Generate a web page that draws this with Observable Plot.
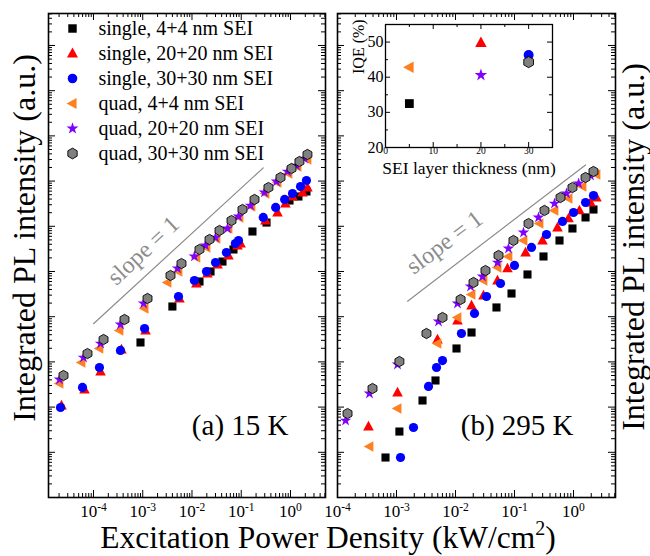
<!DOCTYPE html>
<html><head><meta charset="utf-8">
<script src="https://cdn.jsdelivr.net/npm/d3@7"></script>
<script src="https://cdn.jsdelivr.net/npm/@observablehq/plot@0.6"></script>
<style>
body{margin:0;background:#fff;}
#wrap{position:relative;width:650px;height:556px;font-family:"Liberation Serif","Times New Roman",serif;overflow:hidden;background:#fff;}
#wrap svg{position:absolute;}
.title{position:absolute;white-space:nowrap;font-size:32px;line-height:32px;text-align:center;color:#000;}
</style></head><body>
<div id="wrap"></div>
<script>
// ---------- series ----------
const seriesNames = ["single, 4+4 nm SEI","single, 20+20 nm SEI","single, 30+30 nm SEI","quad, 4+4 nm SEI","quad, 20+20 nm SEI","quad, 30+30 nm SEI"];
const seriesColors = ["#000000","#ff0000","#0000ff","#ff8020","#8000ff","#808080"];

// ---------- (a) 15 K ----------
const a_single4_x = [9.0e-4, 4.0e-3, 1.42e-2, 2.38e-2, 4.16e-2, 6.96e-2, 0.169, 0.326, 0.955, 1.45, 2.11];
const a_single4_y = [2690, 1.68e4, 6.0e4, 1.0e5, 1.66e5, 3.07e5, 7.67e5, 1.21e6, 3.72e6, 4.56e6, 5.89e6];
const a_single20_x = [2.24e-5, 6.57e-5, 1.39e-4, 3.7e-4, 1.14e-3, 5.57e-3, 1.23e-2, 2.06e-2, 3.3e-2, 5.5e-2, 8.4e-2, 9.7e-2, 0.31, 0.545, 0.79, 1.10, 1.75, 2.21];
const a_single20_y = [108, 245, 613, 1880, 4950, 2.53e4, 5.43e4, 9.0e4, 1.43e5, 2.26e5, 3.76e5, 4.16e5, 1.34e6, 2.02e6, 3.19e6, 4.56e6, 5.6e6, 7.2e6];
const a_single30_x = [2.14e-5, 5.98e-5, 1.32e-4, 3.53e-4, 1.09e-3, 5.32e-3, 1.12e-2, 1.97e-2, 3.0e-2, 5.0e-2, 7.6e-2, 8.8e-2, 0.28, 0.50, 0.76, 1.10, 1.60, 2.11];
const a_single30_y = [98, 272, 752, 1790, 5480, 2.8e4, 6.32e4, 1.0e5, 1.58e5, 2.63e5, 4.16e5, 4.85e5, 1.57e6, 2.61e6, 3.92e6, 5.32e6, 7.6e6, 1.03e7];
const a_quad4_x = [2.04e-5, 5.7e-5, 1.32e-4, 3.37e-4, 1.09e-3, 3.18e-3, 5.32e-3, 1.23e-2, 1.97e-2, 3.14e-2, 5.5e-2, 9.2e-2, 0.161, 0.31, 0.545, 0.91, 1.39, 2.21];
const a_quad4_y = [333, 970, 1980, 4950, 1.52e4, 5.71e4, 1.0e5, 2.04e5, 3.4e5, 5.37e5, 8.94e5, 1.57e6, 2.74e6, 5.32e6, 9.31e6, 1.47e7, 2.1e7, 3.0e7];
const a_quad20_x = [2.04e-5, 6.26e-5, 1.39e-4, 3.53e-4, 1.04e-3, 5.08e-3, 1.12e-2, 1.88e-2, 3.0e-2, 5.26e-2, 8.8e-2, 0.154, 0.296, 0.52, 0.87, 1.32, 1.92];
const a_quad20_y = [408, 1250, 2550, 6720, 1.96e4, 1.17e5, 2.15e5, 3.76e5, 5.65e5, 8.94e5, 1.65e6, 2.88e6, 5.6e6, 9.8e6, 1.63e7, 2.21e7, 3.16e7];
const a_quad30_x = [2.46e-5, 7.55e-5, 1.6e-4, 4.26e-4, 1.25e-3, 3.66e-3, 6.12e-3, 1.42e-2, 2.27e-2, 3.62e-2, 6.34e-2, 0.106, 0.186, 0.357, 0.627, 1.05, 1.52, 2.21];
const a_quad30_y = [500, 1530, 3130, 8670, 2.53e4, 8.16e4, 1.5e5, 3.07e5, 5.1e5, 8.07e5, 1.34e6, 2.35e6, 3.92e6, 7.2e6, 1.2e7, 1.9e7, 2.71e7, 3.88e7];

// ---------- (b) 295 K ----------
const b_single4_x = [6.51e-4, 1.12e-3, 2.76e-3, 4.58e-3, 1.04e-2, 1.87e-2, 4.95e-2, 8.9e-2, 0.166, 0.31, 0.579, 0.96, 1.6, 2.18];
const b_single4_y = [7.67, 28.8, 140, 388, 1980, 4470, 1.6e4, 3.26e4, 8.59e4, 2.15e5, 4.85e5, 8.94e5, 1.57e6, 2.35e6];
const b_single20_x = [3.35e-4, 1.04e-3, 4.95e-3, 1.08e-2, 1.87e-2, 2.98e-2, 5.15e-2, 7.6e-2, 0.154, 0.298, 0.535, 0.823, 1.26, 1.94, 2.45];
const b_single20_y = [37, 210, 3130, 8240, 1.77e4, 2.94e4, 6.32e4, 1.17e5, 2.63e5, 4.85e5, 9.4e5, 1.49e6, 2.24e6, 3.36e6, 4.34e6];
const b_single30_x = [1.17e-3, 1.94e-3, 3.49e-3, 4.77e-3, 6.02e-3, 1.26e-2, 2.1e-2, 3.35e-2, 5.79e-2, 0.1, 0.194, 0.349, 0.651, 1.0, 1.6, 2.18];
const b_single30_y = [7.67, 35.4, 286, 752, 1070, 4250, 1.18e4, 2.8e4, 5.43e4, 1.36e5, 3.4e5, 6.59e5, 1.28e6, 2.02e6, 3.36e6, 4.8e6];
const b_quad4_x = [3.48e-4, 1.04e-3, 4.95e-3, 1.08e-2, 1.87e-2, 2.98e-2, 5.15e-2, 7.9e-2, 0.142, 0.265, 0.476, 0.823, 1.42, 2.45];
const b_quad4_y = [13.4, 93, 2550, 9600, 3.1e4, 6.32e4, 1.23e5, 2.15e5, 4.85e5, 1.15e6, 2.24e6, 4.12e6, 7.6e6, 1.4e7];
const b_quad20_x = [1.37e-4, 3.48e-4, 1.04e-3, 5.15e-3, 1.08e-2, 1.8e-2, 2.87e-2, 5.15e-2, 7.9e-2, 0.142, 0.255, 0.476, 0.76, 1.22, 1.94];
const b_quad20_y = [50.5, 200, 876, 7830, 1.96e4, 4.66e4, 7.75e4, 1.58e5, 3.23e5, 7.29e5, 1.57e6, 3.19e6, 5.32e6, 8.85e6, 1.33e7];
const b_quad30_x = [1.48e-4, 3.92e-4, 1.12e-3, 3.22e-3, 6.02e-3, 1.22e-2, 2.02e-2, 3.22e-2, 5.36e-2, 9.6e-2, 0.173, 0.322, 0.602, 0.96, 1.6, 2.18];
const b_quad30_y = [72, 258, 1020, 4250, 9600, 2.4e4, 5.71e4, 1.05e5, 2.26e5, 4.85e5, 1.15e6, 2.24e6, 4.34e6, 7.2e6, 1.2e7, 1.63e7];

// ---------- inset: IQE vs SEI thickness ----------
const iqeThickness = [5, 20, 30, 5, 20, 30];
const iqeValues = [32.5, 49.8, 46.3, 42.8, 40.6, 44.3];

// ---------- slope = 1 guides ----------
const slopeA_x = [1.0e-4, 0.28], slopeA_y = [7.0e3, 1.96e7];
const slopeB_x = [1.54e-3, 1.6], slopeB_y = [2.2e4, 2.28e7];
const slopeLabelA_x = [1.03e-3], slopeLabelA_y = [2.9e5];
const slopeLabelB_x = [6.5e-3], slopeLabelB_y = [4.4e5];

// ---------- ticks ----------
const xTickLabelsA = [1e-4, 1e-3, 1e-2, 1e-1, 1];
const xTickLabelsB = [1e-4, 1e-3, 1e-2, 1e-1, 1];
const insetXTicks = [0, 10, 20, 30], insetXMinor = [5, 15, 25];
const insetYTicks = [20, 30, 40, 50], insetYMinor = [25, 35, 45];

const FONT = '"Liberation Serif","Times New Roman",serif';

// ---------- symbols ----------
function sym(fn){ return {draw(c, size){ fn(c, Math.sqrt(size/Math.PI)); }}; }
const symSquare = sym((c,r)=>{const s=r*0.88; c.moveTo(-s,-s); c.lineTo(s,-s); c.lineTo(s,s); c.lineTo(-s,s); c.closePath();});
const symTriUp = sym((c,r)=>{c.moveTo(0,-1.25*r); c.lineTo(1.15*r,0.85*r); c.lineTo(-1.15*r,0.85*r); c.closePath();});
const symCircle = sym((c,r)=>{c.moveTo(r,0); c.arc(0,0,r,0,2*Math.PI); c.closePath();});
const symTriLeft = sym((c,r)=>{c.moveTo(-1.25*r,0); c.lineTo(0.85*r,-1.15*r); c.lineTo(0.85*r,1.15*r); c.closePath();});
const symStar = sym((c,r)=> d3.symbolStar.draw(c, Math.PI*r*r*0.62));
const symHex = sym((c,r)=>{const R=r*1.12; for(let k=0;k<6;k++){const a=Math.PI/2+k*Math.PI/3; const x=R*Math.cos(a), y=-R*Math.sin(a); if(k) c.lineTo(x,y); else c.moveTo(x,y);} c.closePath();});
const symbols = [symSquare, symTriUp, symCircle, symTriLeft, symStar, symHex];

function rows(xs, ys){ return xs.map((x,i)=>({x, y: ys[i]})); }
const panelA = [[a_single4_x,a_single4_y],[a_single20_x,a_single20_y],[a_single30_x,a_single30_y],[a_quad4_x,a_quad4_y],[a_quad20_x,a_quad20_y],[a_quad30_x,a_quad30_y]].map(([x,y])=>rows(x,y));
const panelB = [[b_single4_x,b_single4_y],[b_single20_x,b_single20_y],[b_single30_x,b_single30_y],[b_quad4_x,b_quad4_y],[b_quad20_x,b_quad20_y],[b_quad30_x,b_quad30_y]].map(([x,y])=>rows(x,y));

function seriesDots(tables, r){
  return tables.map((t,i)=>Plot.dot(t,{x:"x", y:"y", r, symbol: symbols[i], fill: seriesColors[i], stroke: i===5 ? "#000" : "none", strokeWidth: 0.9}));
}
function logTicks(lo, hi){
  const maj=[], min=[];
  for (let e=-6; e<=11; e++) for (let k=1; k<10; k++) {
    const v = k*Math.pow(10,e);
    if (v >= lo*0.9999 && v <= hi*1.0001) (k===1 ? maj : min).push(v);
  }
  return [maj, min];
}
function frameTicks(xt, yt, fw, fh, L, l){
  const [xM,xm]=xt, [yM,ym]=yt;
  const o={stroke:"#000", strokeWidth:1};
  return [
    Plot.tickX(xM,{...o,x:d=>d,insetTop:fh-L}),
    Plot.tickX(xM,{...o,x:d=>d,insetBottom:fh-L}),
    Plot.tickX(xm,{...o,x:d=>d,insetTop:fh-l}),
    Plot.tickX(xm,{...o,x:d=>d,insetBottom:fh-l}),
    Plot.tickY(yM,{...o,y:d=>d,insetRight:fw-L}),
    Plot.tickY(yM,{...o,y:d=>d,insetLeft:fw-L}),
    Plot.tickY(ym,{...o,y:d=>d,insetRight:fw-l}),
    Plot.tickY(ym,{...o,y:d=>d,insetLeft:fw-l})
  ];
}
function supLabels(svg){
  svg.querySelectorAll('g[aria-label="x-axis tick label"] text').forEach(t=>{
    const s = t.textContent; if (!s.includes("^")) return;
    const [b,e] = s.split("^");
    t.textContent = b;
    const ts = document.createElementNS("http://www.w3.org/2000/svg","tspan");
    ts.setAttribute("dy","-0.5em"); ts.setAttribute("font-size","0.68em"); ts.textContent = e;
    t.appendChild(ts);
  });
}
const baseStyle = {fontFamily: FONT, background: "transparent", overflow: "visible", left: "0px", top: "0px", color: "#000"};
const yDomain = [1, 5.1e10];
const yt = logTicks(yDomain[0], yDomain[1]);

// ---------- panel (a) ----------
const xDomA = [1.22e-5, 5.14];
const plotA = Plot.plot({
  width: 650, height: 556, marginLeft: 48, marginRight: 325, marginTop: 13, marginBottom: 59,
  x: {type: "log", domain: xDomA},
  y: {type: "log", domain: yDomain, axis: null},
  style: baseStyle,
  marks: [
    ...frameTicks(logTicks(xDomA[0], xDomA[1]), yt, 277, 484, 7, 4),
    Plot.axisX({ticks: xTickLabelsA, anchor: "bottom", tickSize: 0, tickPadding: 7, fontSize: 17, label: null, tickFormat: d => "10^" + Math.round(Math.log10(d))}),
    Plot.line(rows(slopeA_x, slopeA_y), {x: "x", y: "y", stroke: "#8c8c8c", strokeWidth: 1.2}),
    Plot.text(rows(slopeLabelA_x, slopeLabelA_y), {x: "x", y: "y", text: () => "slope = 1", rotate: -43, fontSize: 24, fill: "#8c8c8c"}),
    ...seriesDots(panelA, 4.6),
    Plot.text(["(a) 15 K"], {text: d => d, frameAnchor: "bottom-right", textAnchor: "end", dx: -37, dy: -63, fontSize: 29}),
    Plot.frame({stroke: "#000", strokeWidth: 1.6})
  ]
});

// ---------- panel (b) ----------
const xDomB = [1e-4, 5.15];
const plotB = Plot.plot({
  width: 650, height: 556, marginLeft: 337, marginRight: 35, marginTop: 13, marginBottom: 59,
  x: {type: "log", domain: xDomB},
  y: {type: "log", domain: yDomain, axis: null},
  style: baseStyle,
  marks: [
    ...frameTicks(logTicks(xDomB[0], xDomB[1]), yt, 278, 484, 7, 4),
    Plot.axisX({ticks: xTickLabelsB, anchor: "bottom", tickSize: 0, tickPadding: 7, fontSize: 17, label: null, tickFormat: d => "10^" + Math.round(Math.log10(d))}),
    Plot.line(rows(slopeB_x, slopeB_y), {x: "x", y: "y", stroke: "#8c8c8c", strokeWidth: 1.2}),
    Plot.text(rows(slopeLabelB_x, slopeLabelB_y), {x: "x", y: "y", text: () => "slope = 1", rotate: -37, fontSize: 24, fill: "#8c8c8c"}),
    ...seriesDots(panelB, 4.6),
    Plot.text(["(b) 295 K"], {text: d => d, frameAnchor: "bottom-right", textAnchor: "end", dx: -42, dy: -63, fontSize: 29}),
    Plot.frame({stroke: "#000", strokeWidth: 1.6})
  ]
});

// ---------- inset ----------
const insetRows = iqeThickness.map((t,i)=>({x: t, y: iqeValues[i]}));
const inset = Plot.plot({
  width: 650, height: 556, marginLeft: 385, marginRight: 98, marginTop: 24, marginBottom: 409,
  x: {domain: [0, 35]},
  y: {domain: [20, 55]},
  style: baseStyle,
  marks: [
    ...frameTicks([insetXTicks, insetXMinor], [insetYTicks, insetYMinor], 167, 123, 5, 3),
    Plot.axisX({ticks: insetXTicks, anchor: "bottom", tickSize: 0, tickPadding: 0, fontSize: 9.5, label: null}),
    Plot.axisY({ticks: insetYTicks, anchor: "left", tickSize: 0, tickPadding: 2, fontSize: 16, label: null}),
    ...insetRows.map((d,i)=>Plot.dot([d], {x: "x", y: "y", r: 5, symbol: symbols[i], fill: seriesColors[i], stroke: i===5 ? "#000" : "none", strokeWidth: 0.9})),
    Plot.text(["SEI layer thickness (nm)"], {text: d => d, frameAnchor: "bottom", dy: 26, fontSize: 17.5}),
    Plot.text(["IQE (%)"], {text: d => d, frameAnchor: "left", rotate: -90, dx: -27, dy: -12, fontSize: 16}),
    Plot.frame({stroke: "#000", strokeWidth: 1.3})
  ]
});

// ---------- legend ----------
const legend = Plot.plot({
  width: 260, height: 165, marginLeft: 12, marginRight: 0, marginTop: 13, marginBottom: 27,
  y: {type: "point", domain: seriesNames, padding: 0, axis: null},
  style: {...baseStyle, left: "60px", top: "15px"},
  marks: [
    ...seriesNames.map((n,i)=>Plot.dot([n], {y: d => d, frameAnchor: "left", r: 4.8, symbol: symbols[i], fill: seriesColors[i], stroke: i===5 ? "#000" : "none", strokeWidth: 0.9})),
    Plot.text(seriesNames, {y: d => d, text: d => d, frameAnchor: "left", textAnchor: "start", dx: 26, fontSize: 20})
  ]
});

supLabels(plotA); supLabels(plotB);
const wrap = document.getElementById("wrap");
[plotA, plotB, inset, legend].forEach(s => wrap.appendChild(s));

function addTitle(html, cx, cy, rot, w, fs){
  const d = document.createElement("div");
  d.className = "title";
  d.innerHTML = html;
  d.style.width = w + "px";
  d.style.left = (cx - w/2) + "px";
  d.style.top = (cy - 16) + "px";
  if (fs) d.style.fontSize = fs + "px";
  if (rot) d.style.transform = "rotate(" + rot + "deg)";
  wrap.appendChild(d);
}
addTitle("Integrated PL intensity (a.u.)", 24, 238, -90, 440);
addTitle("Integrated PL intensity (a.u.)", 633, 247, -90, 440);
addTitle('Excitation Power Density (kW/cm<span style="font-size:20px;position:relative;top:-13px">2</span>)', 328, 538.4, 0, 656, 31.5);
</script>
</body></html>
